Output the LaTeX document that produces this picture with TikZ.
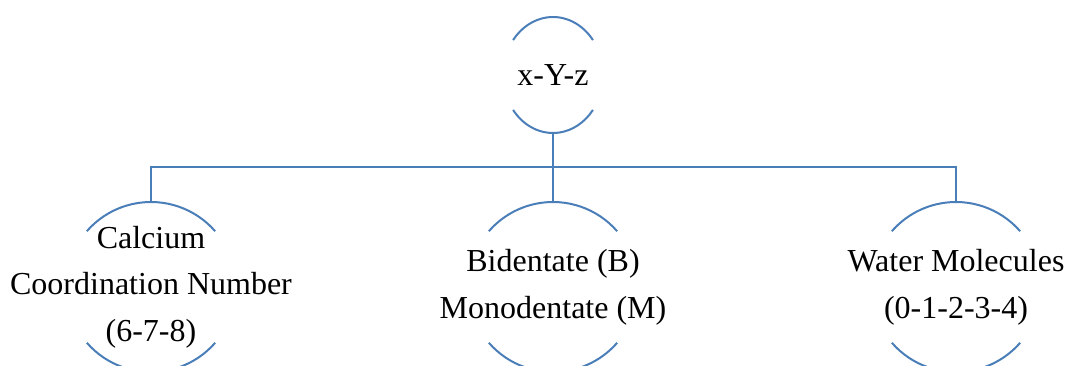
\documentclass[tikz,border=0pt]{standalone}
\usepackage{fontspec}
\setmainfont{Liberation Serif}
\usetikzlibrary{calc}
\definecolor{arcblue}{RGB}{74,126,184}

% a pair of arcs above and below a named node: node, x radius, y radius, start angle
\newcommand{\arcpair}[4]{%
  \draw[arcline] (#1.center) ++(#4:#2 and #3) arc[start angle=#4, end angle=180-#4, x radius=#2, y radius=#3];
  \draw[arcline] (#1.center) ++(180+#4:#2 and #3) arc[start angle=180+#4, end angle=360-#4, x radius=#2, y radius=#3];
}

\begin{document}
\begin{tikzpicture}[x=0.75pt, y=0.75pt,
    arcline/.style={draw=arcblue, line width=1.5pt},
    nodetext/.style={align=center, font=\fontsize{24}{35}\selectfont}]
  \useasboundingbox (0,0) rectangle (1067,365);
  % the root and its three parts
  \node[nodetext] (top) at (553,290) {x-Y-z};
  \node[nodetext] (calcium) at (151,78) {Calcium\\Coordination Number\\(6-7-8)};
  \node[nodetext] (bidentate) at (553,78) {Bidentate (B)\\Monodentate (M)};
  \node[nodetext] (water) at (956,78) {Water Molecules\\(0-1-2-3-4)};
  \arcpair{top}{50}{58}{37}
  \foreach \n in {calcium,bidentate,water} {
    \arcpair{\n}{85}{85}{41}
  }
  % connectors
  \coordinate (bar) at (553,198);
  \draw[arcline] ($(top.center)+(0,-58)$) -- (bar);
  \draw[arcline] ($(calcium.center)+(0,85)$) |- (bar) -| ($(water.center)+(0,85)$);
  \draw[arcline] (bar) -- ($(bidentate.center)+(0,85)$);
\end{tikzpicture}
\end{document}
